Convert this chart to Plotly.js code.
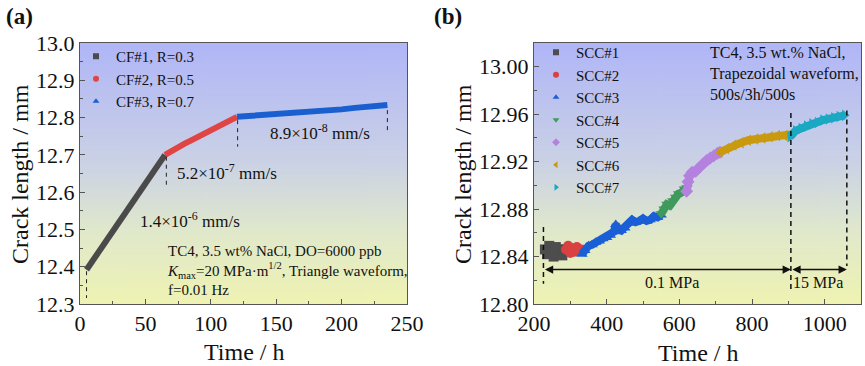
<!DOCTYPE html>
<html>
<head>
<meta charset="utf-8">
<script src="https://cdn.plot.ly/plotly-3.0.1.min.js"></script>
<style>html,body{margin:0;padding:0;background:#fff;}#chart{width:865px;height:366px;}</style>
</head>
<body>
<div id="chart"></div>
<script>
// ---------- data, panel (a) ----------
var cf1T = [5, 10, 15, 20, 25, 30, 35, 40, 45, 50, 55, 60, 65];
var cf1L = [12.392, 12.418, 12.443, 12.469, 12.494, 12.520, 12.545, 12.570, 12.595, 12.620, 12.646, 12.673, 12.700];
var cf2T = [65, 70, 75, 80, 85, 90, 95, 100, 105, 110, 115, 120];
var cf2L = [12.700, 12.711, 12.721, 12.730, 12.739, 12.748, 12.757, 12.766, 12.775, 12.784, 12.793, 12.802];
var cf3T = [120, 130, 140, 150, 160, 170, 180, 190, 200, 210, 220, 230, 235];
var cf3L = [12.802, 12.804, 12.806, 12.808, 12.810, 12.812, 12.815, 12.818, 12.822, 12.826, 12.829, 12.832, 12.834];
var cfNames = ["CF#1, R=0.3", "CF#2, R=0.5", "CF#3, R=0.7"];
var guideAT = [5, 66, 120.5, 235];
var guideAY0 = [12.388, 12.695, 12.793, 12.820];
var guideAY1 = [12.316, 12.619, 12.722, 12.762];

// ---------- data, panel (b) ----------
var scc1T = [230, 236, 242, 248, 254, 260, 266, 272, 278, 284];
var scc1L = [12.846, 12.842, 12.849, 12.844, 12.840, 12.848, 12.843, 12.846, 12.841, 12.846];
var scc2T = [288, 294, 300, 306, 312, 318, 324, 331];
var scc2L = [12.846, 12.849, 12.843, 12.847, 12.844, 12.848, 12.845, 12.846];
var scc3T = [332, 340, 350, 360, 370, 380, 390, 400, 410, 420, 425, 432, 440, 450, 460, 470, 480, 490, 500, 510, 520, 530, 540, 550];
var scc3L = [12.842, 12.845, 12.849, 12.850, 12.852, 12.853, 12.855, 12.856, 12.858, 12.861, 12.867, 12.863, 12.862, 12.864, 12.868, 12.871, 12.869, 12.870, 12.872, 12.870, 12.871, 12.874, 12.873, 12.875];
var scc4T = [550, 558, 566, 574, 582, 590, 598, 606, 614, 621];
var scc4L = [12.876, 12.880, 12.884, 12.883, 12.887, 12.890, 12.893, 12.894, 12.897, 12.898];
var scc5T = [620, 624, 628, 635, 645, 655, 665, 675, 685, 695, 705, 712];
var scc5L = [12.895, 12.903, 12.908, 12.911, 12.912, 12.915, 12.918, 12.921, 12.923, 12.925, 12.927, 12.928];
var scc6T = [712, 730, 750, 770, 790, 810, 830, 850, 870, 890, 905];
var scc6L = [12.928, 12.931, 12.934, 12.936, 12.938, 12.939, 12.940, 12.941, 12.942, 12.942, 12.943];
var scc7T = [905, 920, 935, 950, 965, 980, 995, 1010, 1025, 1040, 1055];
var scc7L = [12.941, 12.946, 12.948, 12.950, 12.952, 12.953, 12.955, 12.956, 12.957, 12.958, 12.959];
var sccNames = ["SCC#1", "SCC#2", "SCC#3", "SCC#4", "SCC#5", "SCC#6", "SCC#7"];
var guideBT = [226, 907, 1061];
var guideBY0 = [12.865, 12.961, 12.963];
var guideBY1 = [12.817, 12.811, 12.832];
var arrowY = 12.829;
var arrowSegs = [[226, 907], [907, 1061]];
var arrowLabels = ["0.1 MPa", "15 MPa"];

// ---------- styles ----------
var FONT = "'Liberation Serif', 'Times New Roman', serif";
var cfColors = ["#4a4a4a", "#e04545", "#1a5fd0"];
var cfSymbols = ["square", "circle", "triangle-up"];
var sccColors = ["#4d4d4d", "#d94040", "#1a5fd6", "#3f9a5c", "#b482de", "#c99a10", "#1aa8c2"];
var sccSymbols = ["square", "circle", "triangle-up", "triangle-down", "diamond", "triangle-left", "triangle-right"];

var W = 865, H = 366;
function px(x) { return x / W; }
function py(y) { return (H - y) / H; }
var domA = [px(80), px(407)];
var domB = [px(534), px(861)];
var domY = [py(304), py(43)];

var traces = [];
var cfT = [cf1T, cf2T, cf3T], cfL = [cf1L, cf2L, cf3L];
for (var i = 0; i < 3; i++) {
  traces.push({x: cfT[i], y: cfL[i], xaxis: "x", yaxis: "y", mode: "lines",
    line: {color: cfColors[i], width: 6}, showlegend: false, hoverinfo: "skip"});
}
for (var i = 0; i < guideAT.length; i++) {
  traces.push({x: [guideAT[i], guideAT[i]], y: [guideAY0[i], guideAY1[i]], xaxis: "x", yaxis: "y",
    mode: "lines", line: {color: "#222", width: 1, dash: "4px,4px"}, showlegend: false, hoverinfo: "skip"});
}
for (var i = 0; i < 3; i++) {
  traces.push({x: [null], y: [null], xaxis: "x", yaxis: "y", mode: "markers", name: cfNames[i],
    marker: {color: cfColors[i], symbol: cfSymbols[i], size: 6}, legend: "legend"});
}
var sT = [scc1T, scc2T, scc3T, scc4T, scc5T, scc6T, scc7T];
var sL = [scc1L, scc2L, scc3L, scc4L, scc5L, scc6L, scc7L];
for (var i = 0; i < 7; i++) {
  traces.push({x: sT[i], y: sL[i], xaxis: "x2", yaxis: "y2", mode: "lines+markers",
    line: {color: sccColors[i], width: 8}, marker: {color: sccColors[i], symbol: sccSymbols[i], size: 10},
    showlegend: false, hoverinfo: "skip"});
}
for (var i = 0; i < guideBT.length; i++) {
  traces.push({x: [guideBT[i], guideBT[i]], y: [guideBY0[i], guideBY1[i]], xaxis: "x2", yaxis: "y2",
    mode: "lines", line: {color: "#111", width: 1.5, dash: "5px,4px"}, showlegend: false, hoverinfo: "skip"});
}
for (var i = 0; i < 7; i++) {
  traces.push({x: [null], y: [null], xaxis: "x2", yaxis: "y2", mode: "markers", name: sccNames[i],
    marker: {color: sccColors[i], symbol: sccSymbols[i], size: 6}, legend: "legend2"});
}

function axisBase() {
  return {showgrid: false, zeroline: false, showline: true, mirror: true, linecolor: "#555", linewidth: 1,
    ticks: "inside", ticklen: 5, tickcolor: "#555", tickfont: {family: FONT, size: 22, color: "#111"},
    fixedrange: true};
}
var xa = Object.assign(axisBase(), {domain: domA, anchor: "y", range: [0, 250], dtick: 50, tick0: 0,
  minor: {dtick: 25, ticks: "inside", ticklen: 3, tickcolor: "#555"}});
var ya = Object.assign(axisBase(), {domain: domY, anchor: "x", range: [12.3, 13.0], dtick: 0.1, tick0: 12.3,
  tickformat: ".1f", minor: {dtick: 0.05, ticks: "inside", ticklen: 3, tickcolor: "#555"}});
var xb = Object.assign(axisBase(), {domain: domB, anchor: "y2", range: [200, 1100], dtick: 200, tick0: 200,
  minor: {dtick: 100, ticks: "inside", ticklen: 3, tickcolor: "#555"}});
var yb = Object.assign(axisBase(), {domain: domY, anchor: "x2", range: [12.80, 13.02], dtick: 0.04, tick0: 12.80,
  tickformat: ".2f", minor: {dtick: 0.02, ticks: "inside", ticklen: 3, tickcolor: "#555"}});

// gradient background image
var cv = document.createElement("canvas");
cv.width = 4; cv.height = 256;
var ctx = cv.getContext("2d");
var g = ctx.createLinearGradient(0, 0, 0, 256);
g.addColorStop(0, "rgb(176,182,247)");
g.addColorStop(0.45, "rgb(202,209,230)");
g.addColorStop(0.72, "rgb(224,232,204)");
g.addColorStop(1, "rgb(239,243,178)");
ctx.fillStyle = g; ctx.fillRect(0, 0, 4, 256);
var bg = cv.toDataURL();

var images = [domA, domB].map(function (d) {
  return {source: bg, xref: "paper", yref: "paper", x: d[0], y: domY[1], sizex: d[1] - d[0], sizey: domY[1] - domY[0],
    xanchor: "left", yanchor: "top", sizing: "stretch", layer: "below"};
});

var ann = [];
function txt(o) { ann.push(Object.assign({showarrow: false, font: {family: FONT, size: 16, color: "#111"}}, o)); }
// panel labels
txt({text: "<b>(a)</b>", xref: "paper", yref: "paper", x: px(4), y: py(16), xanchor: "left", yanchor: "middle", font: {family: FONT, size: 23, color: "#111"}});
txt({text: "<b>(b)</b>", xref: "paper", yref: "paper", x: px(432), y: py(16), xanchor: "left", yanchor: "middle", font: {family: FONT, size: 23, color: "#111"}});
// axis titles
txt({text: "Crack length / mm", xref: "paper", yref: "paper", x: px(20), y: py(174), textangle: -90, xanchor: "center", yanchor: "middle", font: {family: FONT, size: 24, color: "#111"}});
txt({text: "Crack length / mm", xref: "paper", yref: "paper", x: px(463), y: py(174), textangle: -90, xanchor: "center", yanchor: "middle", font: {family: FONT, size: 24, color: "#111"}});
txt({text: "Time / h", xref: "paper", yref: "paper", x: px(244), y: py(352), xanchor: "center", yanchor: "middle", font: {family: FONT, size: 24, color: "#111"}});
txt({text: "Time / h", xref: "paper", yref: "paper", x: px(698), y: py(353), xanchor: "center", yanchor: "middle", font: {family: FONT, size: 24, color: "#111"}});
// panel (a) notes
txt({text: "8.9×10<sup>-8</sup> mm/s", xref: "x", yref: "y", x: 183.5, y: 12.762, xanchor: "center", yanchor: "middle", font: {family: FONT, size: 17, color: "#111"}});
txt({text: "5.2×10<sup>-7</sup> mm/s", xref: "x", yref: "y", x: 72.6, y: 12.655, xanchor: "left", yanchor: "middle", font: {family: FONT, size: 17, color: "#111"}});
txt({text: "1.4×10<sup>-6</sup> mm/s", xref: "x", yref: "y", x: 44.3, y: 12.526, xanchor: "left", yanchor: "middle", font: {family: FONT, size: 17, color: "#111"}});
txt({text: "TC4, 3.5 wt% NaCl, DO=6000 ppb<br><i>K</i><sub>max</sub>=20 MPa·m<sup>1/2</sup>, Triangle waveform,<br>f=0.01 Hz",
  xref: "x", yref: "y", x: 65, y: 12.389, xanchor: "left", yanchor: "middle", align: "left", font: {family: FONT, size: 15, color: "#111"}});
// panel (b) notes
txt({text: "TC4, 3.5 wt.% NaCl,<br>Trapezoidal waveform,<br>500s/3h/500s", xref: "x2", yref: "y2", x: 679, y: 12.994,
  xanchor: "left", yanchor: "middle", align: "left", font: {family: FONT, size: 16, color: "#111"}});
var labelT = [581, 982];
for (var i = 0; i < arrowSegs.length; i++) {
  ann.push({xref: "x2", yref: "y2", axref: "x2", ayref: "y2", x: arrowSegs[i][1], y: arrowY, ax: arrowSegs[i][0], ay: arrowY,
    text: "", showarrow: true, arrowside: "end+start", arrowhead: 2, arrowsize: 1.1, arrowwidth: 1.5, arrowcolor: "#111", standoff: 0, startstandoff: 0});
  txt({text: arrowLabels[i], xref: "x2", yref: "y2", x: labelT[i], y: 12.8185, xanchor: "center", yanchor: "middle"});
}

var layout = {
  width: W, height: H, margin: {l: 0, r: 0, t: 0, b: 0},
  paper_bgcolor: "#ffffff", plot_bgcolor: "rgba(0,0,0,0)",
  font: {family: FONT, color: "#111"},
  xaxis: xa, yaxis: ya, xaxis2: xb, yaxis2: yb,
  images: images, annotations: ann,
  legend: {x: px(76), y: py(40), xanchor: "left", yanchor: "top", bgcolor: "rgba(0,0,0,0)", borderwidth: 0,
    font: {family: FONT, size: 15, color: "#111"}, tracegroupgap: 0},
  legend2: {x: px(536), y: py(36), xanchor: "left", yanchor: "top", bgcolor: "rgba(0,0,0,0)", borderwidth: 0,
    font: {family: FONT, size: 15, color: "#111"}, tracegroupgap: 0},
  showlegend: true, hovermode: false
};
Plotly.newPlot("chart", traces, layout, {staticPlot: true, displayModeBar: false});
</script>
</body>
</html>
